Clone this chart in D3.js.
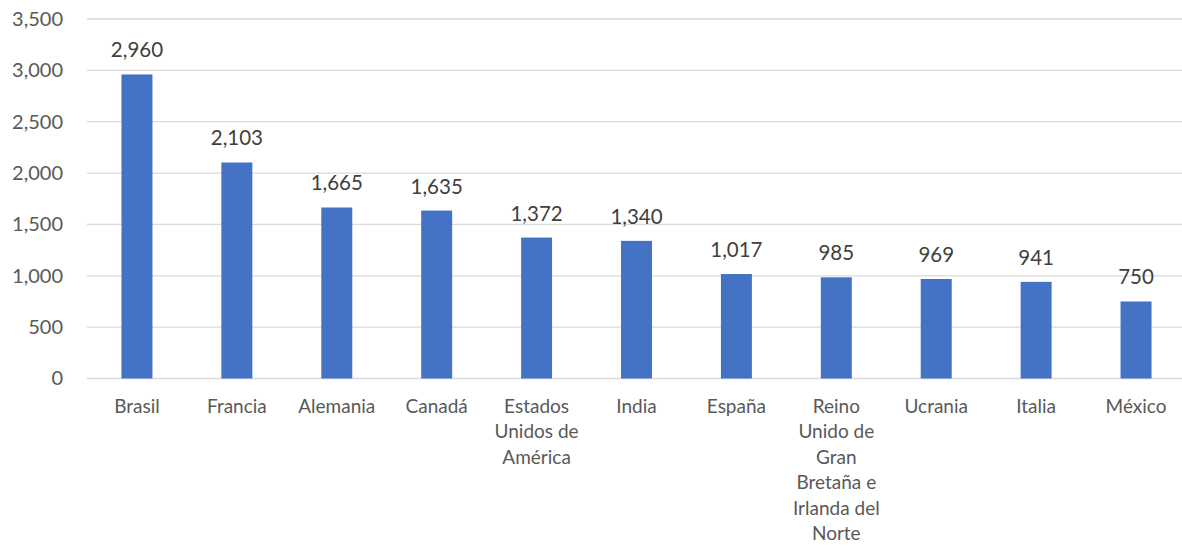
<!DOCTYPE html>
<html>
<head>
<meta charset="utf-8">
<script src="https://cdn.jsdelivr.net/npm/d3@7"></script>
<style>
  html, body { margin: 0; padding: 0; background: #fff; }
  svg { display: block; font-family: Lato, "Open Sans", sans-serif; }
</style>
</head>
<body>
<svg id="chart" width="1182" height="546"></svg>
<script>
const categories = ["Brasil", "Francia", "Alemania", "Canadá", "Estados Unidos de América", "India", "España", "Reino Unido de Gran Bretaña e Irlanda del Norte", "Ucrania", "Italia", "México"];
const values = [2960, 2103, 1665, 1635, 1372, 1340, 1017, 985, 969, 941, 750];
const yTicks = [0, 500, 1000, 1500, 2000, 2500, 3000, 3500];

const svg = d3.select("#chart");
const textColor = "#595959";
const fontSize = 20;

const x = d3.scaleBand().domain(categories).range([87, 1186]).paddingInner(0.69).paddingOuter(0.345);
const y = d3.scaleLinear().domain([0, 3500]).range([378.5, 19]);
const fmt = d3.format(",");

// gridlines
svg.append("g").selectAll("line").data(yTicks).join("line")
  .attr("x1", 87).attr("x2", 1186)
  .attr("y1", d => y(d)).attr("y2", d => y(d))
  .attr("stroke", "#d9d9d9").attr("stroke-width", 1.3);

// y axis labels
const yAxis = d3.axisLeft(y).tickValues(yTicks).tickFormat(fmt).tickSize(0).tickPadding(0);
const gy = svg.append("g").attr("transform", "translate(63,0)").call(yAxis);
gy.select(".domain").remove();
gy.selectAll("text").attr("fill", textColor).attr("font-size", fontSize).attr("font-family", "Lato, 'Open Sans', sans-serif");

// bars
svg.append("g").selectAll("rect").data(values).join("rect")
  .attr("x", (d, i) => x(categories[i]))
  .attr("width", x.bandwidth())
  .attr("y", d => y(d))
  .attr("height", d => y(0) - y(d))
  .attr("fill", "#4472c4");

// value labels
svg.append("g").selectAll("text").data(values).join("text")
  .attr("x", (d, i) => x(categories[i]) + x.bandwidth() / 2)
  .attr("y", d => y(d) - 17)
  .attr("text-anchor", "middle")
  .attr("fill", "#404040")
  .attr("font-size", 20.5)
  .text(d => fmt(d));

// category labels with wrapping
const maxW = 88;
const gx = svg.append("g");
categories.forEach(c => {
  const cx = x(c) + x.bandwidth() / 2;
  const t = gx.append("text").attr("text-anchor", "middle").attr("fill", textColor)
    .attr("font-size", 19).attr("x", cx).attr("y", 413);
  const words = c.split(" ");
  let lines = [];
  let line = [];
  const probe = t.append("tspan");
  words.forEach(w => {
    const test = line.concat([w]).join(" ");
    probe.text(test);
    if (line.length && probe.node().getComputedTextLength() > maxW) {
      lines.push(line.join(" "));
      line = [w];
    } else {
      line.push(w);
    }
  });
  if (line.length) lines.push(line.join(" "));
  probe.remove();
  lines.forEach((l, i) => {
    t.append("tspan").attr("x", cx).attr("y", 413 + i * 25.4).text(l);
  });
});
</script>
</body>
</html>
